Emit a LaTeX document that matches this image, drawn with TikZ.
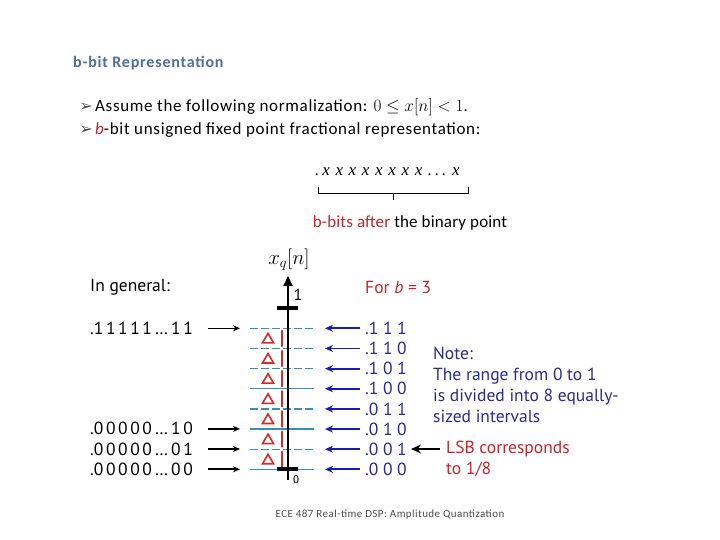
\documentclass[tikz,border=0pt]{standalone}
\usepackage{fontspec}
\setmainfont{Carlito}
\newfontfamily\dfont{PT Sans}
\newfontfamily\djv{DejaVu Sans}
\newfontfamily\serf{Liberation Serif}
\usetikzlibrary{arrows.meta}
\definecolor{titleblue}{HTML}{4F6E9A}
\definecolor{lvl}{HTML}{3C8DB4}
\definecolor{bblue}{HTML}{1B1BB0}
\definecolor{navy}{HTML}{2B2B8E}
\definecolor{rred}{HTML}{D42A2A}
\definecolor{bred}{HTML}{C0272D}
\tikzset{
  lab/.style={anchor=west,inner sep=0pt},
  big/.style={font=\addfontfeature{LetterSpace=4}\fontsize{17}{20}\selectfont},
  dlab/.style={lab,font=\dfont\fontsize{17.5}{21}\selectfont},
  larr/.style={-{Stealth[length=7pt,width=6pt]},line width=1.4pt,black},
  barr/.style={-{Stealth[length=8pt,width=7pt]},line width=1.8pt,bblue},
  level/.style={lvl,line width=1.4pt,dash pattern=on 8pt off 3pt},
  levels/.style={lvl,line width=1.2pt},
  tri/.style={rred,line width=1.6pt,line join=miter},
  rmark/.style={rred,line width=2.6pt,line cap=round},
}
\newcommand{\dg}{\hspace{2.6pt}}
\newcommand{\dr}{\hspace{4.6pt}}
\begin{document}
\begin{tikzpicture}[x=1pt,y=-1pt]
\useasboundingbox (0,0) rectangle (720,540);
\fill[white] (0,0) rectangle (720,540);

% title and bullets
\node[lab,font=\bfseries\addfontfeature{LetterSpace=5}\fontsize{16}{19}\selectfont,text=titleblue] (title) at (73,63) {b-bit Representation};
\node[font=\djv\fontsize{16}{18}\selectfont,text=black!70] (bul1) at (86,107) {➢};
\node[font=\djv\fontsize{16}{18}\selectfont,text=black!70] (bul2) at (86,130) {➢};
\node[lab,big] (t1) at (95,107) {Assume the following normalization: $0\le x[n]<1$.};
\node[lab,big] (t2) at (95,130) {{\color{bred}\itshape b}-bit unsigned fixed point fractional representation:};

% bit string and brace
\node[lab,font=\serf\itshape\fontsize{17}{20}\selectfont] (xs) at (315,172) {.\,x\,\,x\,\,x\,\,x\,\,x\,\,x\,\,x\,\,x\,\,.\,.\,.\,\,x};
\draw[line width=0.9pt] (318,187) -- (318,193) -- (468,193) -- (468,187);
\draw[line width=0.9pt] (393,193) -- (393,200);
\node[font=\addfontfeature{LetterSpace=1}\fontsize{17}{20}\selectfont] (bits) at (410,223) {{\color{bred}b-bits after} the binary point};

% levels
\foreach \k/\pat in {0/1,1/1,2/1,3/0,4/1,5/0,6/1,7/0}{
  \pgfmathsetmacro{\yy}{328.3+20.15*\k}
  \coordinate (L\k) at (250,\yy);
  \coordinate (R\k) at (314,\yy);
  \ifnum\pat=1
    \draw[level] (L\k) -- (R\k);
  \else
    \draw[levels] (L\k) -- (R\k);
  \fi
}
% red triangles and marks
\foreach \k in {0,...,6}{
  \pgfmathsetmacro{\yy}{328.3+20.15*\k+10.07}
  \draw[tri] (262.5,\yy+4.5) -- (273.5,\yy+4.5) -- (268,\yy-5) -- cycle;
  \draw[rmark] (282,\yy-7.5) -- (282,\yy+7.5);
}

% axis
\coordinate (axb) at (288,480);
\coordinate (axt) at (288,276);
\draw[line width=2.2pt,-{Triangle[length=10pt,width=9pt]}] (axb) -- (axt);
\draw[line width=4.5pt] (277,308) -- (298,308);
\draw[line width=4.5pt] (277,469) -- (298,469);
\node[font=\serf\fontsize{22}{24}\selectfont] (xq) at (289,260) {$x_q[n]$};
\node[font=\dfont\fontsize{16}{18}\selectfont] (one) at (298,295) {1};
\node[font=\serf\fontsize{12}{14}\selectfont] (zero) at (296,480) {0};

% left labels
\node[dlab] (gen) at (90,287) {In general:};
\node[dlab] (g1) at (90,328) {.1\dg 1\dg 1\dg 1\dg 1\,…\,1\dg 1};
\node[dlab] (g2) at (90,428) {.0\dg 0\dg 0\dg 0\dg 0\,…\,1\dg 0};
\node[dlab] (g3) at (90,449) {.0\dg 0\dg 0\dg 0\dg 0\,…\,0\dg 1};
\node[dlab] (g4) at (90,469) {.0\dg 0\dg 0\dg 0\dg 0\,…\,0\dg 0};
\coordinate (a1) at (240,328.3);
\coordinate (a2) at (240,428.9);
\coordinate (a3) at (240,449.0);
\coordinate (a4) at (240,469.3);
\draw[larr] (208,328.3) -- (a1);
\draw[larr] (208,428.9) -- (a2);
\draw[larr] (208,449.0) -- (a3);
\draw[larr,line width=2.2pt] (208,469.3) -- (a4);

% right labels
\node[dlab,text=bred] (forb) at (365,287) {For \textit{b} = 3};
\foreach \k/\txt in {0/{.1\dr 1\dr 1},1/{.1\dr 1\dr 0},2/{.1\dr 0\dr 1},3/{.1\dr 0\dr 0},4/{.0\dr 1\dr 1},5/{.0\dr 1\dr 0},6/{.0\dr 0\dr 1},7/{.0\dr 0\dr 0}}{
  \pgfmathsetmacro{\yy}{328.3+20.15*\k}
  \node[dlab,text=navy] (v\k) at (365,\yy) {\txt};
  \coordinate (s\k) at (360,\yy);
  \coordinate (e\k) at (325,\yy);
  \draw[barr] (s\k) -- (e\k);
}
\node[dlab,text=navy,align=left] (note) at (433,384.5) {Note:\\The range from 0 to 1\\is divided into 8 equally-\\sized intervals};
\node[dlab,text=bred,align=left] (lsb) at (446,459) {LSB corresponds\\to 1/8};
\coordinate (lsbs) at (440,449);
\coordinate (lsbe) at (411,449);
\draw[-{Stealth[length=10pt,width=9pt]},line width=1.8pt] (lsbs) -- (lsbe);

% footer
\node[font=\addfontfeature{LetterSpace=4}\fontsize{11}{13}\selectfont,text=black!70] (foot) at (390,515) {ECE 487 Real-time DSP: Amplitude Quantization};
\end{tikzpicture}
\end{document}
